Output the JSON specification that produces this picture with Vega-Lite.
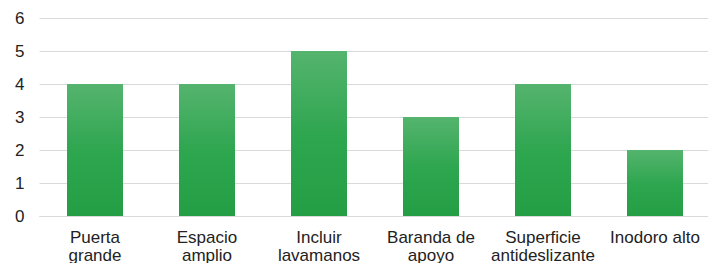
{
  "$schema": "https://vega.github.io/schema/vega-lite/v6.json",
  "width": 672,
  "height": 198,
  "autosize": {"type": "none"},
  "padding": {"left": 39, "top": 18, "right": 0, "bottom": 47},
  "background": "white",
  "data": {"values": [
    {"item": "Puerta grande", "count": 4},
    {"item": "Espacio amplio", "count": 4},
    {"item": "Incluir lavamanos", "count": 5},
    {"item": "Baranda de apoyo", "count": 3},
    {"item": "Superficie antideslizante", "count": 4},
    {"item": "Inodoro alto", "count": 2}
  ]},
  "config": {"view": {"stroke": null}, "font": "Liberation Sans"},
  "mark": {
    "type": "bar",
    "color": {
      "x1": 0, "y1": 0, "x2": 0, "y2": 1,
      "gradient": "linear",
      "stops": [
        {"offset": 0, "color": "#55b46e"},
        {"offset": 0.5, "color": "#2fa650"},
        {"offset": 1, "color": "#249e45"}
      ]
    }
  },
  "encoding": {
    "x": {
      "field": "item", "type": "nominal", "sort": null,
      "scale": {"paddingInner": 0.5, "paddingOuter": 0.25},
      "axis": {
        "title": null, "labelAngle": 0, "ticks": false,
        "domainColor": "#d9d9d9", "domainWidth": 1,
        "labelFontSize": 17, "labelColor": "#222", "labelPadding": 13,
        "labelLineHeight": 18,
        "labelExpr": "datum.value == 'Baranda de apoyo' ? ['Baranda de', 'apoyo'] : datum.value == 'Inodoro alto' ? 'Inodoro alto' : split(datum.value, ' ')"
      }
    },
    "y": {
      "field": "count", "type": "quantitative",
      "scale": {"domain": [0, 6]},
      "axis": {
        "title": null, "domain": false, "ticks": false,
        "values": [0, 1, 2, 3, 4, 5, 6],
        "gridColor": "#d9d9d9", "labelFontSize": 17, "labelColor": "#222",
        "labelPadding": 15
      }
    }
  }
}
